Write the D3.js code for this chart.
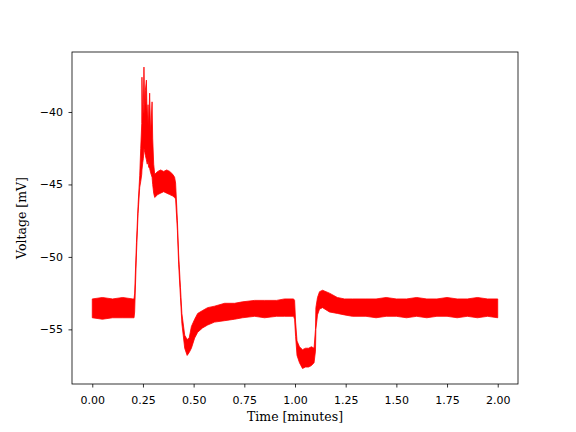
<!DOCTYPE html>
<html>
<head>
<meta charset="utf-8">
<script src="https://cdn.jsdelivr.net/npm/d3@7"></script>
<style>
    body { margin: 0; background: #ffffff; }
    svg { display: block; }
</style>
</head>
<body>
<svg id="main" width="576" height="432"></svg>
<script>
// Time samples [minutes]
const timeMin = [
    0.000, 0.050, 0.100, 0.150, 0.200, 0.206, 0.209, 0.218, 0.226, 0.234,
    0.239, 0.244, 0.245, 0.249, 0.252, 0.255, 0.259, 0.262, 0.267, 0.271,
    0.275, 0.278, 0.283, 0.288, 0.295, 0.298, 0.303, 0.308, 0.323, 0.337,
    0.352, 0.367, 0.382, 0.397, 0.406, 0.411, 0.420, 0.426, 0.435, 0.442,
    0.456, 0.468, 0.478, 0.489, 0.505, 0.520, 0.544, 0.569, 0.603, 0.653,
    0.702, 0.741, 0.801, 0.850, 0.909, 0.948, 0.993, 0.998, 1.003, 1.010,
    1.022, 1.037, 1.052, 1.067, 1.081, 1.094, 1.101, 1.103, 1.111, 1.121,
    1.136, 1.170, 1.209, 1.244, 1.283, 1.350, 1.400, 1.450, 1.500, 1.550,
    1.600, 1.650, 1.700, 1.750, 1.800, 1.850, 1.900, 1.950, 2.000
];

// Upper edge of the noisy trace [mV]
const voltageHigh = [
    -52.9, -52.8, -52.9, -52.8, -52.9, -52.9, -52.5, -49.0, -46.4, -44.4,
    -42.5, -40.8, -37.6, -40.6, -39.5, -36.9, -40.2, -38.5, -37.8, -40.8,
    -39.5, -41.0, -38.7, -41.5, -39.3, -41.8, -43.6, -44.3, -44.1, -44.0,
    -44.1, -44.0, -44.1, -44.3, -44.5, -44.9, -47.5, -49.8, -52.1, -53.9,
    -55.4, -55.7, -55.6, -54.8, -54.3, -53.9, -53.7, -53.5, -53.4, -53.2,
    -53.2, -53.1, -53.0, -53.0, -53.0, -52.9, -52.9, -53.0, -54.5, -55.8,
    -56.2, -56.4, -56.3, -56.3, -56.2, -56.3, -55.0, -53.5, -52.8, -52.4,
    -52.3, -52.5, -52.8, -52.9, -52.9, -52.9, -52.9, -52.8, -52.9, -52.9,
    -52.8, -52.9, -52.9, -52.8, -52.9, -52.9, -52.8, -52.9, -52.9
];

// Lower edge of the noisy trace [mV]
const voltageLow = [
    -54.2, -54.3, -54.2, -54.2, -54.2, -54.2, -53.8, -49.8, -47.0, -45.2,
    -44.8, -44.3, -44.0, -43.5, -43.2, -42.5, -42.8, -43.0, -43.3, -43.6,
    -43.4, -43.8, -43.9, -44.2, -44.5, -45.0, -45.6, -45.9, -45.7, -45.6,
    -45.5, -45.6, -45.7, -45.8, -45.9, -46.0, -48.2, -50.5, -52.8, -54.6,
    -56.3, -56.8, -56.6, -56.3, -55.6, -55.2, -54.9, -54.7, -54.5, -54.4,
    -54.3, -54.2, -54.1, -54.2, -54.1, -54.1, -54.1, -54.3, -55.5, -56.8,
    -57.3, -57.7, -57.6, -57.6, -57.5, -57.3, -56.5, -55.0, -54.0, -53.6,
    -53.5, -53.8, -53.9, -54.0, -54.1, -54.1, -54.2, -54.1, -54.1, -54.2,
    -54.1, -54.2, -54.1, -54.1, -54.2, -54.1, -54.2, -54.1, -54.2
];

// Tick values
const xTicks = [0, 0.25, 0.5, 0.75, 1.0, 1.25, 1.5, 1.75, 2.0];
const yTicks = [-55, -50, -45, -40];

const margin = { left: 72, right: 58, top: 52, bottom: 48 };
const width = 576, height = 432;

const svg = d3.select('svg#main');

const x = d3.scaleLinear()
    .domain([-0.1, 2.1])
    .range([margin.left, width - margin.right]);

const y = d3.scaleLinear()
    .domain([-58.77, -35.86])
    .range([height - margin.bottom, margin.top]);

const points = timeMin.map((t, i) => ({ t: t, hi: voltageHigh[i], lo: voltageLow[i] }));

// Noise band of the voltage trace
const band = d3.area()
    .x(d => x(d.t))
    .y0(d => y(d.lo))
    .y1(d => y(d.hi));

svg.append('path')
    .datum(points)
    .attr('d', band)
    .attr('fill', '#ff0000')
    .attr('stroke', '#ff0000')
    .attr('stroke-width', 0.8)
    .attr('stroke-linejoin', 'round');

// Axes
const fmtMinus = v => String(v).replace('-', '\u2212');

const xAxis = svg.append('g')
    .attr('transform', `translate(0,${height - margin.bottom})`)
    .call(d3.axisBottom(x)
        .tickValues(xTicks)
        .tickFormat(d3.format('.2f'))
        .tickSize(3.5)
        .tickPadding(9));

const yAxis = svg.append('g')
    .attr('transform', `translate(${margin.left},0)`)
    .call(d3.axisLeft(y)
        .tickValues(yTicks)
        .tickFormat(fmtMinus)
        .tickSize(3.5)
        .tickPadding(5.5));

[xAxis, yAxis].forEach(g => {
    g.select('.domain').remove();
    g.selectAll('.tick line').attr('stroke', '#000').attr('stroke-width', 0.8);
    g.selectAll('.tick text')
        .attr('fill', '#000')
        .style('font-family', '"DejaVu Sans", sans-serif')
        .style('font-size', '11px');
});

// Frame
svg.append('rect')
    .attr('x', margin.left)
    .attr('y', margin.top)
    .attr('width', width - margin.left - margin.right)
    .attr('height', height - margin.top - margin.bottom)
    .attr('fill', 'none')
    .attr('stroke', '#000')
    .attr('stroke-width', 0.8);

// Axis labels
svg.append('text')
    .attr('x', (margin.left + width - margin.right) / 2)
    .attr('y', 421)
    .attr('text-anchor', 'middle')
    .style('font-family', '"DejaVu Serif", serif')
    .style('font-size', '12.5px')
    .text('Time [minutes]');

svg.append('text')
    .attr('transform', `translate(26,${(margin.top + height - margin.bottom) / 2}) rotate(-90)`)
    .attr('text-anchor', 'middle')
    .style('font-family', '"DejaVu Serif", serif')
    .style('font-size', '12.5px')
    .text('Voltage [mV]');
</script>
</body>
</html>
